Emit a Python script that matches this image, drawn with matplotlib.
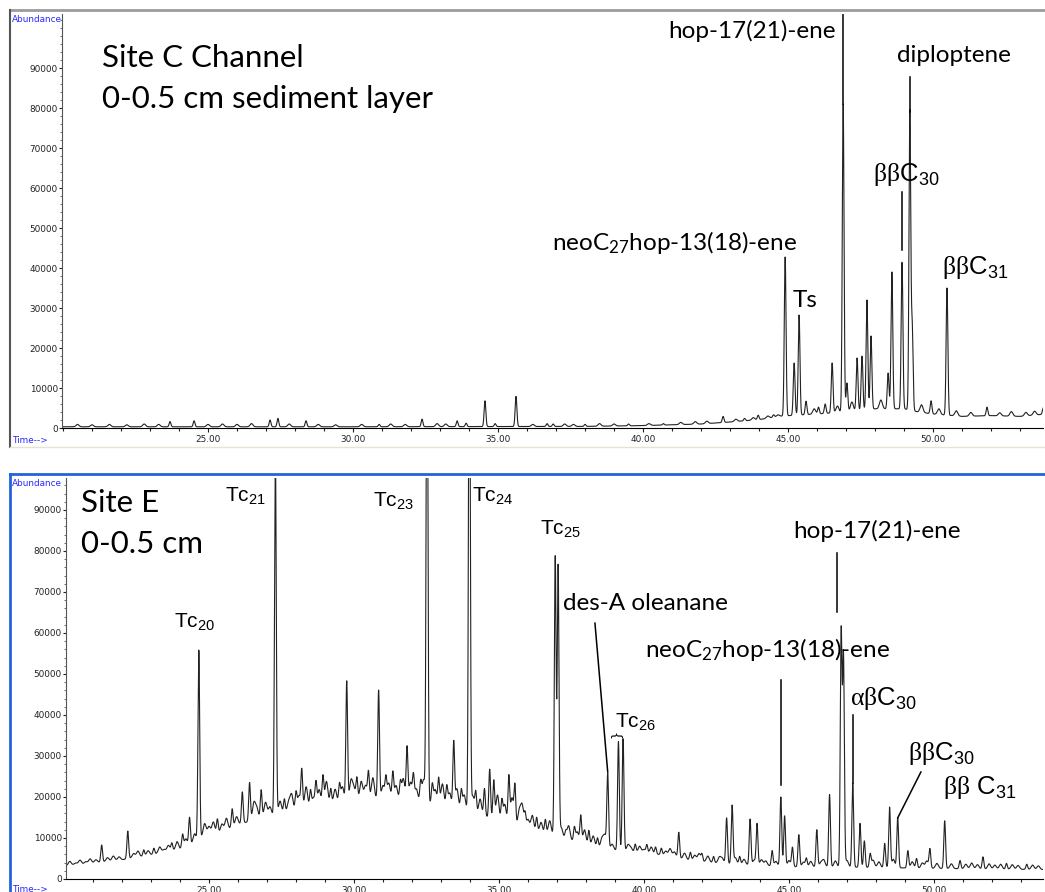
"""
GC-MS total ion chromatograms of hopanoids / tricyclic terpanes,
two sediment samples (Site C Channel and Site E).
"""

import numpy as np
import matplotlib

matplotlib.use("Agg")
import matplotlib.pyplot as plt
from matplotlib.lines import Line2D
from matplotlib.ticker import MultipleLocator, FuncFormatter

plt.rcParams["mathtext.fontset"] = "custom"
plt.rcParams["mathtext.rm"] = "Liberation Sans"
plt.rcParams["mathtext.bf"] = "Liberation Serif"
plt.rcParams["mathtext.default"] = "regular"

# ---- Site C Channel (top) ------------------------------------------------
c_base_t = [20.0, 30.0, 38.0, 40.0, 42.0, 43.0, 44.0, 44.8, 46.0, 47.0,
            48.0, 49.0, 49.5, 50.0, 51.0, 52.0, 53.0, 53.9]
c_base_y = [300, 300, 400, 600, 1000, 1500, 2100, 3000, 3500, 4000,
            4800, 4800, 4000, 3500, 2900, 3100, 2900, 3500]

c_peak_t = [23.69, 24.52, 27.14, 27.41, 28.38, 30.9, 32.38, 33.59, 33.9,
            34.55, 34.9, 35.62, 36.69, 36.9, 38.0, 39.5, 40.7, 42.76, 43.5,
            43.97, 44.5, 44.90, 45.21, 45.38, 45.62, 46.05, 46.28, 46.52,
            46.90, 47.03, 47.38, 47.55, 47.72, 47.86, 48.45, 48.58, 48.93,
            49.20, 49.28, 49.93, 50.48, 51.86, 53.8]
c_peak_h = [1600, 1800, 2000, 2400, 1800, 900, 2200, 1800, 1200,
            6800, 1100, 7900, 1100, 1000, 900, 1000, 1100, 2900, 2400,
            3200, 3300, 42750, 16250, 28250, 6700, 5200, 6000, 16250,
            81000, 11250, 17500, 18000, 32000, 23000, 13750, 39000, 41500,
            79000, 25000, 6800, 35000, 5200, 5000]

# small baseline wiggles (broader)
c_noise_t = [20.5, 21.0, 21.6, 22.2, 22.8, 23.3, 25.0, 25.5, 26.0, 26.5,
             27.8, 28.8, 29.4, 30.3, 31.3, 31.8, 32.9, 33.2, 36.2, 37.3,
             37.6, 38.5, 39.0, 40.2, 41.3, 41.8, 42.2, 43.2, 43.8, 44.3,
             44.65, 45.9, 46.7, 47.2, 48.2, 49.6, 50.2, 50.8, 51.3, 52.3,
             52.7, 53.2, 53.5]
c_noise_h = [900, 800, 900, 800, 1000, 900, 900, 1000, 900, 1100,
             1000, 900, 800, 900, 1000, 900, 1100, 1000, 900, 1000,
             900, 1100, 1000, 1100, 1400, 1600, 1700, 2200, 2600, 3000,
             3300, 4800, 5500, 6500, 7000, 5800, 4800, 4300, 3900, 3800,
             4100, 3900, 4200]

# ---- Site E (bottom) -----------------------------------------------------
e_base_t = [20.0, 21.0, 22.0, 23.0, 24.0, 24.5, 24.8, 25.5, 26.0, 27.0,
            28.0, 29.0, 30.0, 31.0, 32.0, 33.0, 34.0, 35.0, 35.8, 36.8,
            37.5, 38.5, 39.5, 40.5, 41.5, 42.5, 43.5, 45.0, 47.0, 49.0,
            51.0, 53.9]
e_base_y = [3200, 3900, 4700, 5900, 7300, 8700, 10500, 11500, 13300, 15200,
            16800, 18200, 19200, 19700, 19200, 18200, 16300, 14300, 12200,
            10800, 9400, 7500, 6600, 6000, 4700, 3900, 3500, 3000, 2900,
            2700, 2500, 2300]

e_peak_t = [21.3, 22.2, 22.75, 23.1, 23.72, 24.09, 24.33, 24.65, 25.29,
            25.8, 26.15, 26.4, 26.8, 27.29, 27.6, 28.0, 28.2, 28.5, 28.69,
            28.93, 29.2, 29.5, 29.75, 30.1, 30.5, 30.85, 31.1, 31.34, 31.6,
            31.83, 32.05, 32.3, 32.52, 32.7, 32.92, 33.2, 33.44, 33.7, 33.98,
            34.2, 34.5, 34.68, 34.82, 35.1, 35.34, 35.55, 35.9, 36.3, 36.6,
            36.94, 37.04, 37.3, 37.6, 37.82, 38.1, 38.4, 38.75, 39.12, 39.28,
            39.7, 40.1, 40.4, 40.6, 41.2, 41.6, 42.0, 42.4, 42.85, 43.04,
            43.3, 43.66, 43.9, 44.42, 44.72, 44.85, 45.12, 45.34, 45.6,
            45.96, 46.4, 46.8, 46.88, 47.2, 47.45, 47.6, 47.8, 48.3, 48.47,
            48.75, 49.1, 49.4, 49.86, 50.37, 50.9, 51.69, 52.5, 53.2]
e_peak_h = [8300, 11700, 7100, 7500, 8750, 10800, 15000, 55900, 14600,
            17100, 21250, 23500, 21700, 105000, 19500, 21000, 26500, 21500,
            23300, 25000, 22000, 23000, 48300, 24500, 26000, 46100, 24500,
            26000, 23500, 32100, 25000, 23500, 150000, 23000, 24500, 22500,
            33300, 21500, 150000, 21000, 22000, 26800, 24000, 19000, 24800,
            22400, 15500, 15000, 14500, 78600, 76300, 11500, 12500, 15400,
            11800, 10000, 25400, 33500, 34200, 8500, 8300, 7800, 7500, 11400,
            6500, 6000, 5500, 14900, 17900, 5500, 14600, 13400, 6900, 20000,
            15400, 7700, 10800, 5000, 12000, 20600, 60200, 54000, 23400,
            13600, 9300, 6000, 8700, 17500, 14900, 6900, 5000, 7300, 14200,
            4500, 5400, 3800, 3600]

e_noise_t = [20.2, 20.4, 20.55, 20.75, 20.9, 21.1, 21.5, 21.7, 21.9, 22.4,
             22.55, 22.9, 23.3, 23.45, 23.6, 23.9, 24.2, 24.5, 24.85, 25.0,
             25.15, 25.45, 25.6, 25.95, 26.55, 26.65, 26.95, 27.1, 27.45,
             27.75, 27.85, 28.1, 28.35, 28.6, 28.8, 29.05, 29.35, 29.6, 29.9,
             30.0, 30.25, 30.4, 30.65, 31.0, 31.2, 31.45, 31.7, 31.95, 32.15,
             32.4, 32.8, 33.05, 33.3, 33.55, 33.8, 34.1, 34.35, 34.95, 35.2,
             35.45, 35.7, 35.8, 36.0, 36.15, 36.45, 36.75, 37.15, 37.4, 37.7,
             37.95, 38.25, 38.55, 38.65, 38.9, 39.45, 39.55, 39.85, 40.0,
             40.25, 40.75, 40.9, 41.05, 41.4, 41.75, 41.9, 42.2, 42.6, 42.7,
             43.15, 43.45, 43.8, 44.05, 44.2, 44.55, 45.0, 45.5, 45.75, 46.1,
             46.2, 46.6, 47.0, 47.9, 48.1, 48.6, 49.25, 49.6, 49.75, 50.1,
             50.6, 51.1, 51.3, 51.5, 51.9, 52.1, 52.3, 52.7, 52.9, 53.4, 53.6]
e_noise_h = [4300, 3900, 4600, 4200, 4900, 4700, 5200, 5600, 5400, 6200,
             6800, 6900, 7800, 7200, 8200, 9100, 9800, 11000, 13500, 12800,
             13900, 13400, 14800, 15200, 18500, 17200, 18700, 17600, 19000,
             18800, 20500, 20300, 22500, 19800, 21800, 23800, 21900, 22500,
             24000, 22000, 23800, 22800, 24700, 22800, 23400, 22800, 24500,
             23600, 22000, 24200, 21800, 23200, 21000, 22000, 20500, 20200,
             19500, 20500, 18200, 19800, 16500, 17800, 14500, 15500, 13800,
             14200, 12500, 13000, 11500, 12000, 10500, 9800, 10500, 8500,
             8300, 7600, 8000, 7200, 7800, 6800, 7400, 6600, 6300, 5800,
             6200, 5600, 5300, 5000, 5200, 4800, 4600, 4700, 4400, 4300,
             4500, 4100, 4300, 4000, 4600, 4400, 4500, 4600, 4200, 4800,
             4200, 3900, 4400, 3800, 3700, 3600, 3900, 3500, 3700, 3400,
             3600, 3500, 3300, 3400, 3200]

x_major = [25, 30, 35, 40, 45, 50]
y_major = [0, 10000, 20000, 30000, 40000, 50000, 60000, 70000, 80000, 90000]


def build_trace(t, base_t, base_y, peak_t, peak_h, noise_t, noise_h):
    """baseline through the read-off knots plus one gaussian per peak"""
    base = np.interp(t, base_t, base_y)
    y = base.copy()
    for pts, phs, w in ((peak_t, peak_h, 0.03), (noise_t, noise_h, 0.05)):
        for pt, ph in zip(pts, phs):
            amp = ph - np.interp(pt, base_t, base_y)
            y = y + amp * np.exp(-0.5 * ((t - pt) / w) ** 2)
    return y


def style_axis(ax):
    for side in ("top", "right"):
        ax.spines[side].set_visible(False)
    ax.spines["left"].set_color("#555555")
    ax.spines["bottom"].set_color("black")
    ax.set_xticks(x_major)
    ax.xaxis.set_minor_locator(MultipleLocator(1))
    ax.set_yticks(y_major)
    ax.yaxis.set_minor_locator(MultipleLocator(2000))
    ax.xaxis.set_major_formatter(FuncFormatter(lambda v, p: f"{v:.2f}"))
    ax.yaxis.set_major_formatter(FuncFormatter(lambda v, p: f"{int(v)}"))
    ax.tick_params(axis="x", which="major", length=3, width=0.8,
                   labelsize=6.4, pad=2, colors="#222222")
    ax.tick_params(axis="x", which="minor", length=2, width=0.8,
                   colors="#222222")
    ax.tick_params(axis="y", which="major", length=2.5, width=0.8,
                   labelsize=6.4, pad=0.5, colors="#222222")
    ax.tick_params(axis="y", which="minor", length=1.5, width=0.6,
                   colors="#555555")
    for lab in ax.get_xticklabels() + ax.get_yticklabels():
        lab.set_family("DejaVu Sans")


fig = plt.figure(figsize=(10.45, 8.92), dpi=100)

# panel frames (screenshot borders)
fig.add_artist(Line2D([10 / 1045, 1], [1 - 10 / 892] * 2, color="#9c9c9c",
                      lw=2, transform=fig.transFigure))
fig.add_artist(Line2D([10 / 1045] * 2, [1 - 10 / 892, 1 - 447 / 892],
                      color="#555555", lw=1.5, transform=fig.transFigure))
fig.add_artist(Line2D([10 / 1045, 1], [1 - 447 / 892] * 2, color="#e9e2cc",
                      lw=1, transform=fig.transFigure))
fig.add_artist(Line2D([10 / 1045, 1], [1 - 474 / 892] * 2, color="#2364dc",
                      lw=2, transform=fig.transFigure))
fig.add_artist(Line2D([10 / 1045] * 2, [1 - 474 / 892, 0], color="#2364dc",
                      lw=2, transform=fig.transFigure))

ax1 = fig.add_axes([62 / 1045, 1 - 428 / 892, 981 / 1045, 414 / 892])
ax2 = fig.add_axes([66 / 1045, 1 - 879 / 892, 977 / 1045, 401 / 892])

t1 = np.arange(19.9, 54.0, 0.004)
ax1.plot(t1, build_trace(t1, c_base_t, c_base_y, c_peak_t, c_peak_h,
                         c_noise_t, c_noise_h),
         color="#222222", lw=0.8)
ax1.set_xlim(19.966, 53.79)
ax1.set_ylim(0, 103500)
style_axis(ax1)

t2 = np.arange(20.0, 54.0, 0.004)
ax2.plot(t2, build_trace(t2, e_base_t, e_base_y, e_peak_t, e_peak_h,
                         e_noise_t, e_noise_h),
         color="#222222", lw=0.8)
ax2.set_xlim(20.07, 53.76)
ax2.set_ylim(0, 97800)
style_axis(ax2)

# software labels
for ytop in (19, 484):
    fig.text(12 / 1045, 1 - ytop / 892, "Abundance", color="#2a2aff",
             fontsize=6.4, family="DejaVu Sans", ha="left", va="center")
for ybot in (441, 890):
    fig.text(12 / 1045, 1 - ybot / 892, "Time-->", color="#2a2aff",
             fontsize=6.4, family="DejaVu Sans", ha="left", va="center")

big = dict(family="Lato", fontsize=22.5, va="baseline")
mid = dict(family="Lato", fontsize=17.5, va="baseline")
arial = dict(family="Liberation Sans", fontsize=15, va="baseline")
greek = dict(family="Liberation Sans", fontsize=18.5, va="baseline")
line = dict(color="black", lw=1.1)

# top panel annotations
ax1.text(21.34, 90250, "Site C Channel", **big)
ax1.text(21.34, 80000, "0-0.5 cm sediment layer", **big)
ax1.text(40.86, 97500, "hop-17(21)-ene", **mid)
ax1.text(48.76, 91500, "diploptene", **mid)
ax1.text(47.93, 61750, r"$\mathbf{\beta\beta}$C$_{30}$", **greek)
ax1.text(50.31, 38500, r"$\mathbf{\beta\beta}$C$_{31}$", **greek)
ax1.text(36.86, 44500, r"neoC$_{27}$hop-13(18)-ene", **mid)
ax1.text(45.17, 30250, "Ts", **mid)
ax1.plot([46.90, 46.90], [81000, 103500], **line)
ax1.plot([49.20, 49.20], [79000, 87750], **line)
ax1.plot([48.93, 48.93], [44500, 59000], **line)

# bottom panel annotations
ax2.text(20.59, 89500, "Site E", **big)
ax2.text(20.59, 79500, "0-0.5 cm", **big)
ax2.text(23.79, 61200, r"Tc$_{20}$", **arial)
ax2.text(25.55, 91950, r"Tc$_{21}$", **arial)
ax2.text(30.66, 90700, r"Tc$_{23}$", **arial)
ax2.text(34.07, 91950, r"Tc$_{24}$", **arial)
ax2.text(36.41, 83900, r"Tc$_{25}$", **arial)
ax2.text(37.21, 65600, "des-A oleanane", **mid)
ax2.text(39.0, 37000, r"Tc$_{26}$", **arial)
ax2.text(39.05, 35300, "}", rotation=90, ha="center", va="center",
         family="DejaVu Sans", fontsize=9)
ax2.text(40.03, 54150, r"neoC$_{27}$hop-13(18)-ene", **mid)
ax2.text(45.14, 83150, "hop-17(21)-ene", **mid)
ax2.text(47.10, 42400, r"$\mathbf{\alpha\beta}$C$_{30}$", **greek)
ax2.text(49.10, 29000, r"$\mathbf{\beta\beta}$C$_{30}$", **greek)
ax2.text(50.31, 20700, r"$\mathbf{\beta\beta}$ C$_{31}$", **greek)
ax2.plot([38.31, 38.75], [62400, 26100], **line)
ax2.plot([44.72, 44.72], [22900, 48500], **line)
ax2.plot([46.66, 46.66], [65100, 79500], **line)
ax2.plot([47.20, 47.20], [23400, 40000], **line)
ax2.plot([49.55, 48.75], [26100, 14900], **line)

fig.savefig("out.png", dpi=100)
